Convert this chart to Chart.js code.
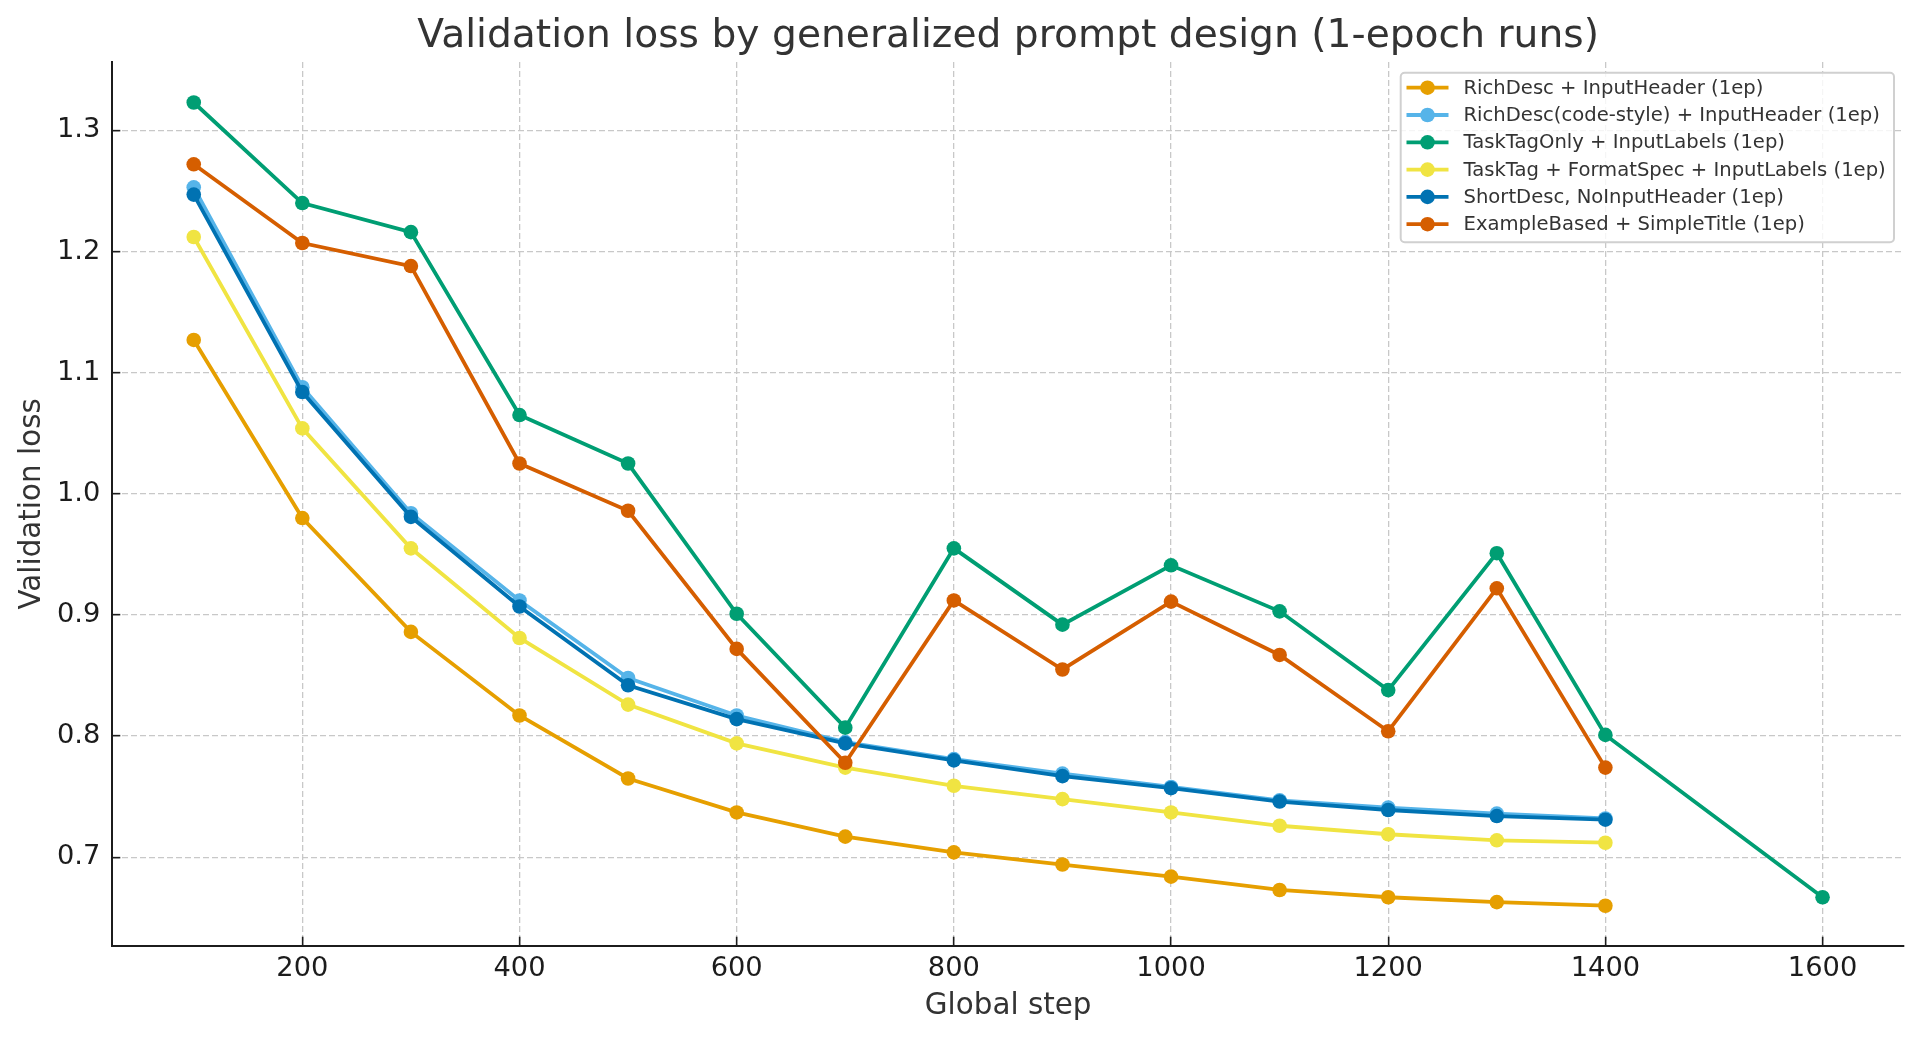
<!DOCTYPE html>
<html>
<head>
<meta charset="utf-8">
<title>Validation loss</title>
<script src="https://cdn.jsdelivr.net/npm/chart.js@4"></script>
<style>
    body { margin: 0; background: #fff; }
    canvas { display: block; }
</style>
</head>
<body>
<canvas id="lossChart" width="1920" height="1040"></canvas>
<script>
const steps = [100, 200, 300, 400, 500, 600, 700, 800, 900, 1000, 1100, 1200, 1300, 1400, 1600];
const xTicks = [200, 400, 600, 800, 1000, 1200, 1400, 1600];
const yTicks = [0.7, 0.8, 0.9, 1.0, 1.1, 1.2, 1.3];

const seriesLabels = [
    'RichDesc + InputHeader (1ep)',
    'RichDesc(code-style) + InputHeader (1ep)',
    'TaskTagOnly + InputLabels (1ep)',
    'TaskTag + FormatSpec + InputLabels (1ep)',
    'ShortDesc, NoInputHeader (1ep)',
    'ExampleBased + SimpleTitle (1ep)'
];
const seriesColors = ['#E69F00', '#56B4E9', '#009E73', '#F0E442', '#0072B2', '#D55E00'];

const richDesc = [1.127, 0.980, 0.886, 0.817, 0.765, 0.737, 0.717, 0.704, 0.694, 0.684, 0.673, 0.667, 0.663, 0.660];
const richDescCode = [1.253, 1.088, 0.984, 0.912, 0.848, 0.817, 0.795, 0.781, 0.769, 0.758, 0.747, 0.741, 0.736, 0.732];
const taskTagOnly = [1.323, 1.240, 1.216, 1.065, 1.025, 0.901, 0.807, 0.955, 0.892, 0.941, 0.903, 0.838, 0.951, 0.801, 0.667];
const taskTagFormat = [1.212, 1.054, 0.955, 0.881, 0.826, 0.794, 0.774, 0.759, 0.748, 0.737, 0.726, 0.719, 0.714, 0.712];
const shortDesc = [1.247, 1.084, 0.981, 0.907, 0.842, 0.814, 0.794, 0.780, 0.767, 0.757, 0.746, 0.739, 0.734, 0.731];
const exampleBased = [1.272, 1.207, 1.188, 1.025, 0.986, 0.872, 0.778, 0.912, 0.855, 0.911, 0.867, 0.804, 0.922, 0.774];

const allSeries = [richDesc, richDescCode, taskTagOnly, taskTagFormat, shortDesc, exampleBased];

const fontFamily = '"DejaVu Sans", sans-serif';
const gridColor = '#c8c8c8';
const axisColor = '#1c1c1c';

// matplotlib style legend, drawn on top of the lines
const legendBox = {
    id: 'legendBox',
    afterDraw(chart) {
        const ctx = chart.ctx;
        ctx.save();
        ctx.beginPath();
        ctx.roundRect(1400.7, 72.7, 493.3, 169.6, 4);
        ctx.fillStyle = 'rgba(255,255,255,0.82)';
        ctx.fill();
        ctx.lineWidth = 2;
        ctx.strokeStyle = '#d0d0d0';
        ctx.stroke();
        ctx.font = '19.6px ' + fontFamily;
        ctx.textBaseline = 'middle';
        chart.data.datasets.forEach((ds, i) => {
            const y = 87.7 + i * 27.3;
            ctx.strokeStyle = ds.borderColor;
            ctx.lineWidth = 3.8;
            ctx.beginPath();
            ctx.moveTo(1406.5, y);
            ctx.lineTo(1448.5, y);
            ctx.stroke();
            ctx.fillStyle = ds.borderColor;
            ctx.beginPath();
            ctx.arc(1427.5, y, 7.3, 0, Math.PI * 2);
            ctx.fill();
            ctx.fillStyle = '#333333';
            ctx.fillText(ds.label, 1463.5, y + 1);
        });
        ctx.restore();
    }
};

const ctx = document.getElementById('lossChart').getContext('2d');
new Chart(ctx, {
    type: 'line',
    data: {
        datasets: allSeries.map((values, i) => ({
            label: seriesLabels[i],
            data: values.map((v, j) => ({ x: steps[j], y: v })),
            borderColor: seriesColors[i],
            backgroundColor: seriesColors[i],
            borderWidth: 3.8,
            pointRadius: 7.3,
            pointBorderWidth: 0,
            tension: 0,
            fill: false,
            order: -i
        }))
    },
    options: {
        responsive: false,
        animation: false,
        devicePixelRatio: 1,
        layout: { padding: { left: 0, right: 16, top: 0, bottom: 0 } },
        plugins: {
            legend: { display: false },
            tooltip: { enabled: false },
            title: {
                display: true,
                text: 'Validation loss by generalized prompt design (1-epoch runs)',
                fullSize: false,
                color: '#333333',
                font: { family: fontFamily, size: 39.2, weight: 'normal', lineHeight: 1.2 },
                padding: { top: 13.6, bottom: 1.4 }
            }
        },
        scales: {
            x: {
                type: 'linear',
                min: 25,
                max: 1675,
                afterBuildTicks: (scale) => { scale.ticks = xTicks.map(v => ({ value: v })); },
                afterFit: (scale) => { scale.height = 94.3; },
                grid: {
                    color: gridColor,
                    lineWidth: 1.3,
                    // negative length turns the tick marks inward
                    tickLength: -9,
                    tickColor: axisColor,
                    tickWidth: 1.6,
                    tickBorderDash: []
                },
                border: { color: axisColor, width: 2, dash: [6, 3] },
                ticks: {
                    color: axisColor,
                    font: { family: fontFamily, size: 27.3 },
                    padding: 16,
                    autoSkip: false,
                    maxRotation: 0,
                    callback: (v) => String(v)
                },
                title: {
                    display: true,
                    text: 'Global step',
                    color: '#333333',
                    font: { family: fontFamily, size: 29.4, weight: 'normal', lineHeight: 1.2 },
                    padding: { top: 0, bottom: 16 }
                }
            },
            y: {
                min: 0.627,
                max: 1.3564,
                afterBuildTicks: (scale) => { scale.ticks = yTicks.map(v => ({ value: v })); },
                afterFit: (scale) => { scale.width = 112.3; },
                grid: {
                    color: gridColor,
                    lineWidth: 1.3,
                    tickLength: -8,
                    tickColor: axisColor,
                    tickWidth: 1.6,
                    tickBorderDash: []
                },
                border: { color: axisColor, width: 2, dash: [6, 3] },
                ticks: {
                    color: axisColor,
                    font: { family: fontFamily, size: 27.3 },
                    padding: 20,
                    autoSkip: false,
                    callback: (v) => v.toFixed(1)
                },
                title: {
                    display: true,
                    text: 'Validation loss',
                    color: '#333333',
                    font: { family: fontFamily, size: 29.4, weight: 'normal', lineHeight: 1.2 },
                    padding: { top: 15, bottom: 0 }
                }
            }
        }
    },
    plugins: [legendBox]
});
</script>
</body>
</html>
